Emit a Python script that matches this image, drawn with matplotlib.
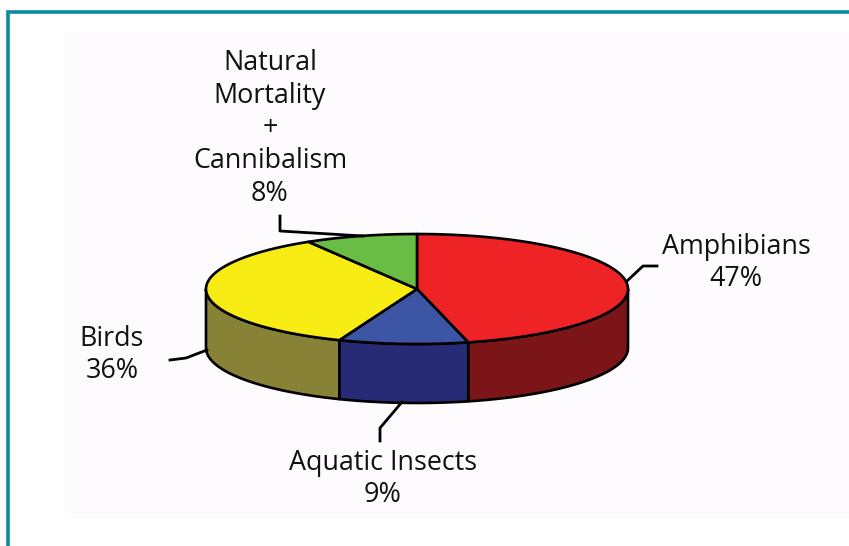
import numpy as np
from matplotlib import pyplot as plt
from matplotlib.patches import Rectangle

plt.rcParams['font.family'] = ['Open Sans', 'DejaVu Sans']

slice_names = ['Amphibians', 'Aquatic Insects', 'Birds', 'Natural\nMortality\n+\nCannibalism']
label_pcts = [47, 9, 36, 8]
# the drawn slices do not quite follow the printed percentages, these are read off the picture
slice_shares = [46.1, 9.9, 35.4, 8.6]
top_colors = ['#ee2326', '#3c55a4', '#f8ec15', '#69bd45']
side_colors = ['#7c1517', '#272a75', '#878235', '#3f7a2a']

cx, cy = 417, 289
rx, ry = 211, 55
depth = 59
W, H = 849, 546


def rim(t):
    # t in degrees, clockwise from the top of the ellipse
    t = np.radians(t)
    return cx + rx * np.sin(t), cy - ry * np.cos(t)


fig = plt.figure(figsize=(W / 100, H / 100), dpi=100)
ax = fig.add_axes([0, 0, 1, 1])
ax.set_xlim(0, W)
ax.set_ylim(H, 0)
ax.axis('off')

# page frame and panel
ax.add_patch(Rectangle((65, 32), W - 65, 487, fc='#fdfbfe', ec='none'))
ax.plot([8.5, 8.5, W], [H, 11.5, 11.5], color='#0a8c9f', lw=2.6, solid_joinstyle='miter')

edges = np.cumsum([0] + slice_shares) * 3.6

# side walls, only the front half of the rim shows
for i in range(len(slice_shares)):
    a, b = max(edges[i], 90), min(edges[i + 1], 270)
    if a >= b:
        continue
    t = np.linspace(a, b, 80)
    x, y = rim(t)
    ax.fill(np.r_[x, x[::-1]], np.r_[y, y[::-1] + depth], fc=side_colors[i],
            ec='black', lw=1.9, joinstyle='round')

# top face
for i in range(len(slice_shares)):
    t = np.linspace(edges[i], edges[i + 1], 120)
    x, y = rim(t)
    ax.fill(np.r_[cx, x], np.r_[cy, y], fc=top_colors[i], ec='black', lw=1.9, joinstyle='round')

# leader lines
ax.plot([627, 643, 657], [281, 266, 266], color='black', lw=2)
ax.plot([207, 186, 170], [350, 358, 360], color='black', lw=2)
ax.plot([402, 380, 380], [402, 428, 441], color='black', lw=2)
ax.plot([280, 280, 363], [216, 231, 236], color='black', lw=2)

# labels
label_pos = [(736, 263), (383, 479), (112, 355), (270, 128.5)]
for name, val, (lx, ly) in zip(slice_names, label_pcts, label_pos):
    ax.text(lx, ly, f'{name}\n{val}%', ha='center', va='center', fontsize=19.4,
            color='#111111', linespacing=1.225)

fig.savefig('out.png', dpi=100)
